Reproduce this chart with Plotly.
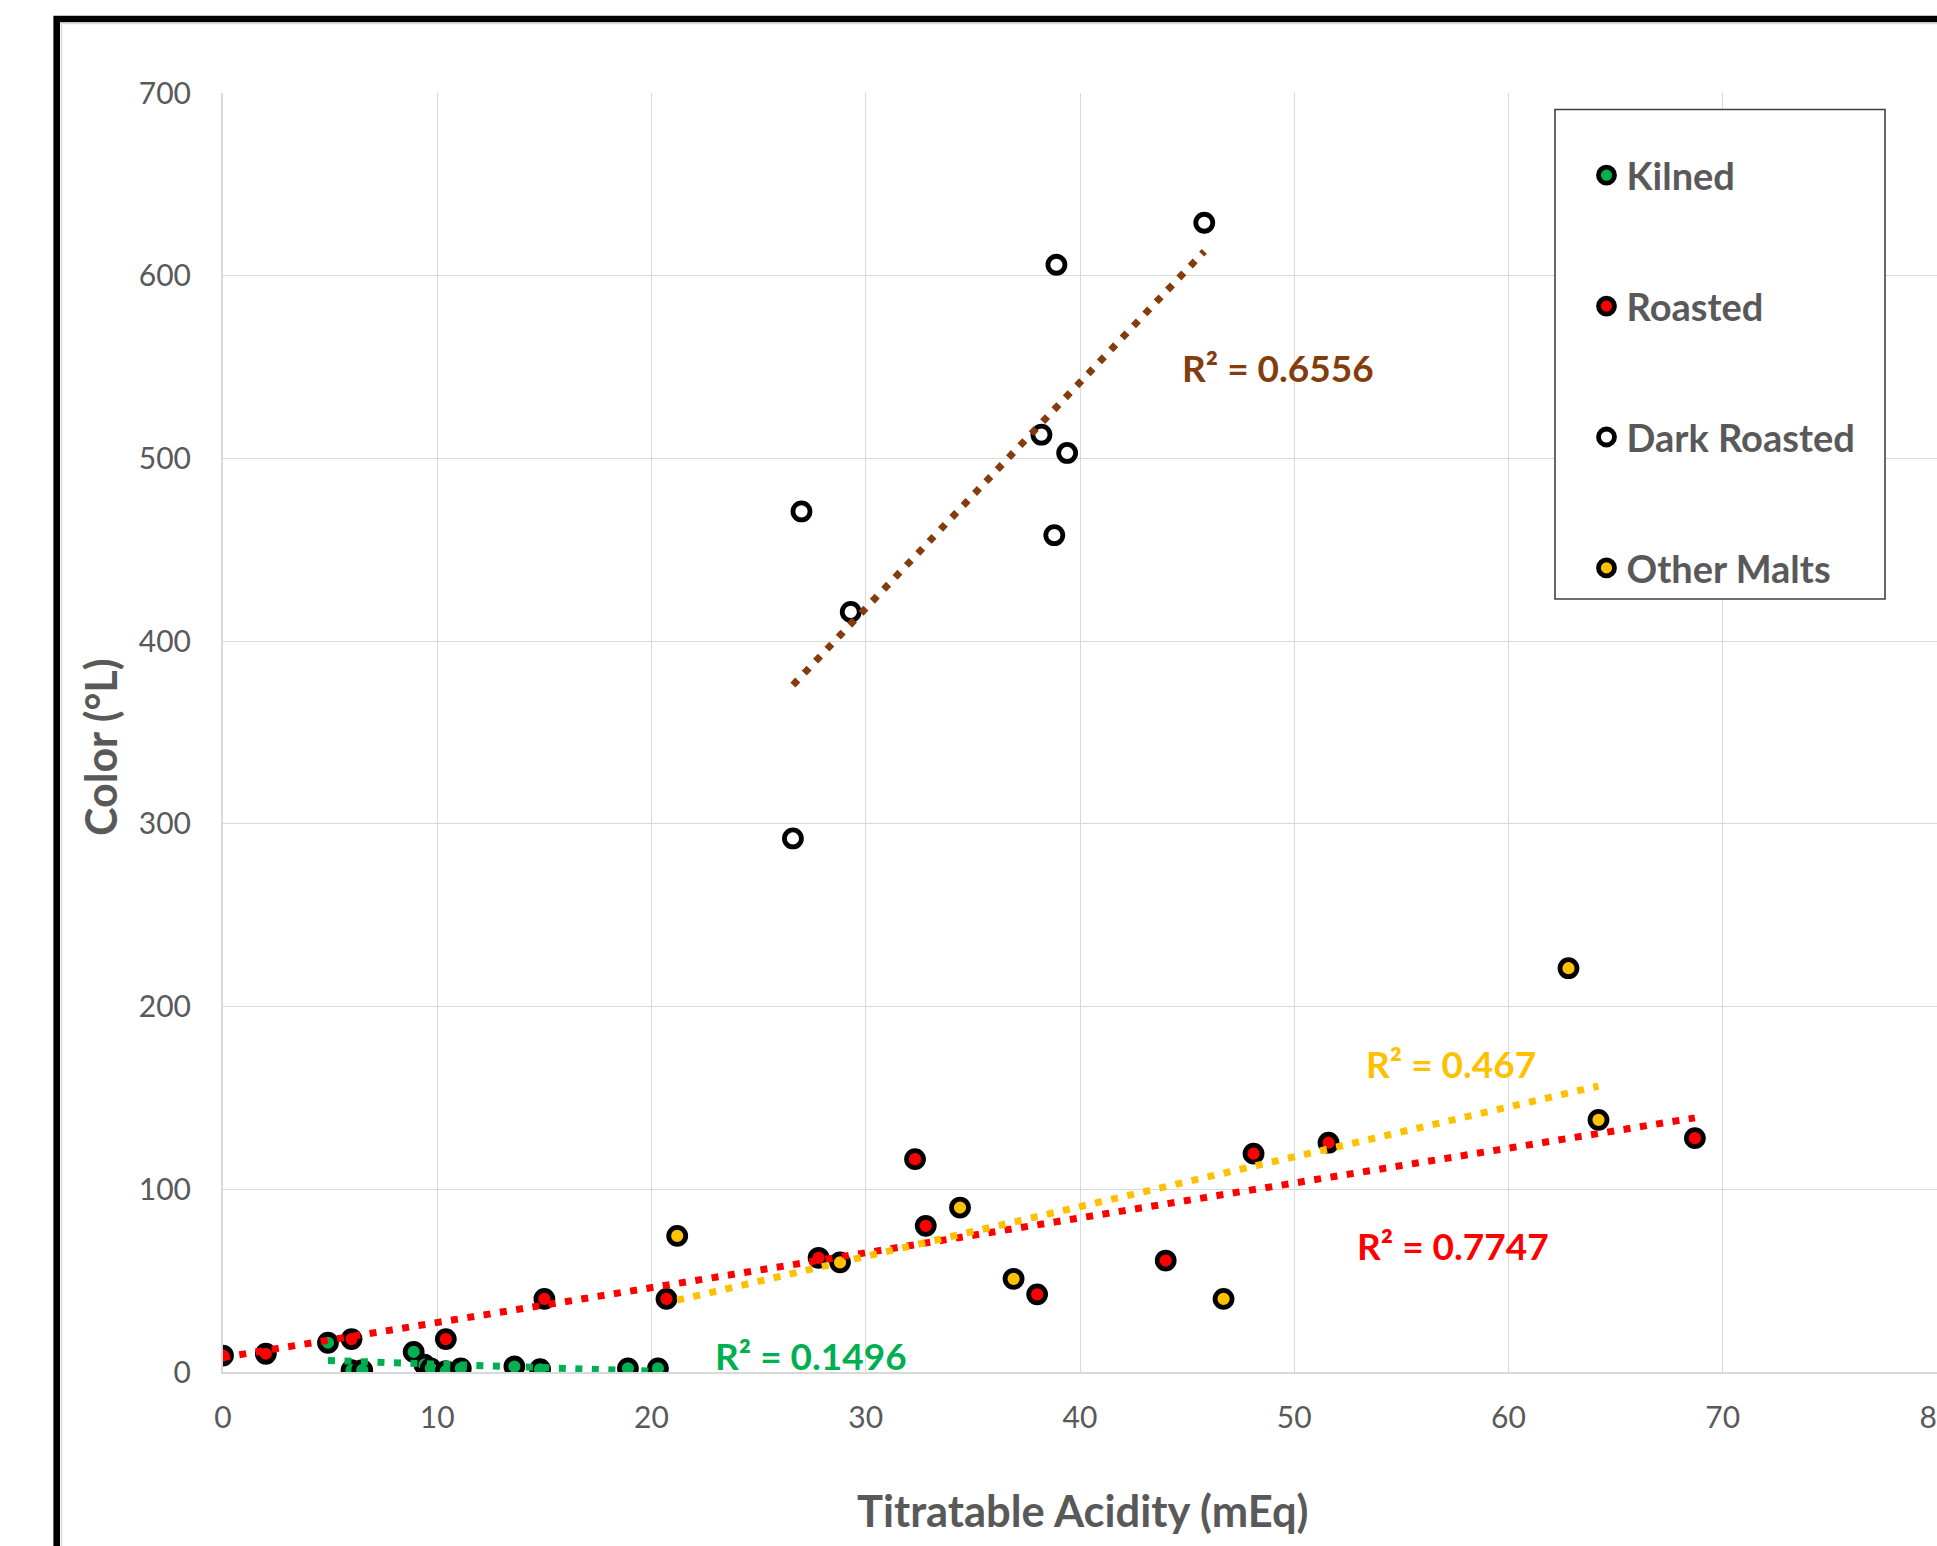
import numpy as np
import plotly.graph_objects as go

# ---------------- data ----------------
kilned_x = [4.9, 6.0, 6.5, 8.9, 9.4, 9.7, 10.4, 11.1, 13.6, 14.8, 18.9, 20.3]
kilned_y = [16, 1, 1, 11, 4, 2, 0.5, 2, 3, 1.5, 2, 2]

roasted_x = [0.0, 2.0, 6.0, 10.4, 15.0, 20.7, 27.8, 32.3, 32.8, 38.0, 44.0, 48.1, 51.6, 68.7]
roasted_y = [9, 10, 18, 18, 40, 40, 62.5, 116.5, 80, 42.5, 61, 119.5, 125.5, 128]

dark_x = [26.6, 27.0, 29.3, 38.2, 38.8, 38.9, 39.4, 45.8]
dark_y = [292, 471, 416, 513, 458, 606, 503, 629]

other_x = [21.2, 28.8, 34.4, 36.9, 46.7, 62.8, 64.2]
other_y = [74.5, 60, 90, 51, 40, 221, 138]

series_names = ["Kilned", "Roasted", "Dark Roasted", "Other Malts"]
r2_labels = ["R² = 0.1496", "R² = 0.7747", "R² = 0.6556", "R² = 0.467"]
# label anchor positions (data units, left edge / vertical middle)
r2_label_x = [22.85, 52.85, 44.65, 53.25]
r2_label_y = [9, 69, 550, 169]

x_ticks = [0, 10, 20, 30, 40, 50, 60, 70, 80]
y_ticks = [0, 100, 200, 300, 400, 500, 600, 700]
x_title = "Titratable Acidity (mEq)"
y_title = "Color (°L)"

# ---------------- styling ----------------
W, H = 1937, 1546
ML, MR, MT, MB = 223, 0, 93, 174
PW, PH = W - ML - MR, H - MT - MB
FONT = "Lato"
TXT = "#595959"
GRID = "#D9D9D9"
marker_fill = ["#00B050", "#FF0000", "#FFFFFF", "#FFC000"]
trend_color = ["#00B050", "#FF0000", "#843C0C", "#FFC000"]


def px(X):
    return (X - ML) / PW


def py(Y):
    return (H - MB - Y) / PH


xs = [kilned_x, roasted_x, dark_x, other_x]
ys = [kilned_y, roasted_y, dark_y, other_y]

fig = go.Figure()

for i, name in enumerate(series_names):
    fig.add_trace(go.Scatter(
        x=xs[i], y=ys[i], mode="markers", name=name,
        legendgroup=name,
        marker=dict(size=17, color=marker_fill[i],
                    line=dict(color="#000000", width=4.8)),
        hoverinfo="x+y",
    ))

# linear trendlines (least squares, spanning the data range)
for i, name in enumerate(series_names):
    xa = np.array(xs[i], dtype=float)
    ya = np.array(ys[i], dtype=float)
    k, b = np.polyfit(xa, ya, 1)
    tx = np.array([xa.min(), xa.max()])
    fig.add_trace(go.Scatter(
        x=tx, y=k * tx + b, mode="lines", showlegend=False,
        line=dict(color=trend_color[i], width=7, dash="7px,9.5px"),
        hoverinfo="skip",
    ))

annotations = []
for i in range(4):
    annotations.append(dict(
        x=r2_label_x[i], y=r2_label_y[i], xref="x", yref="y",
        text=r2_labels[i], showarrow=False, xanchor="left", yanchor="middle",
        font=dict(family=FONT, size=37, color=trend_color[i], weight=700),
    ))

annotations.append(dict(
    x=px(1082), y=py(1510), xref="paper", yref="paper", text=x_title,
    showarrow=False, xanchor="center", yanchor="middle",
    font=dict(family=FONT, size=43.5, color=TXT, weight=700),
))
annotations.append(dict(
    x=px(100), y=py(748), xref="paper", yref="paper", text=y_title,
    showarrow=False, xanchor="center", yanchor="middle", textangle=-90,
    font=dict(family=FONT, size=43, color=TXT, weight=700),
))

shapes = [
    # outer black frame (runs off the right and bottom edges)
    dict(type="rect", xref="paper", yref="paper",
         x0=px(56.7), y0=py(H + 60), x1=px(W + 60), y1=py(19),
         line=dict(color="#000000", width=6.6), fillcolor="rgba(0,0,0,0)", layer="below"),
    dict(type="rect", xref="paper", yref="paper",
         x0=px(61.5), y0=py(H + 60), x1=px(W + 60), y1=py(23.5),
         line=dict(color="#D9D9D9", width=1.5), fillcolor="rgba(0,0,0,0)", layer="below"),
    # legend box
    dict(type="rect", xref="paper", yref="paper",
         x0=px(1555), y0=py(599), x1=px(1885), y1=py(109.5),
         line=dict(color="#404040", width=1.6), fillcolor="#FFFFFF", layer="above"),
]

axis_common = dict(
    showgrid=True, gridcolor=GRID, gridwidth=1.3,
    showline=True, linecolor=GRID, linewidth=2,
    zeroline=False, ticks="", ticklabeloverflow="allow",
    tickfont=dict(family=FONT, size=30, color=TXT),
)

fig.update_layout(
    width=W, height=H,
    margin=dict(l=ML, r=MR, t=MT, b=MB, autoexpand=False),
    paper_bgcolor="#FFFFFF", plot_bgcolor="#FFFFFF",
    xaxis=dict(range=[0, 80], tickvals=x_ticks, ticklabelstandoff=18, **axis_common),
    yaxis=dict(range=[0, 700], tickvals=y_ticks, ticklabelstandoff=24, **axis_common),
    showlegend=True,
    legend=dict(
        x=px(1586.5), y=py(144), xanchor="left", yanchor="top",
        bgcolor="rgba(0,0,0,0)", borderwidth=0,
        traceorder="grouped", tracegroupgap=78.5, itemsizing="trace",
        font=dict(family=FONT, size=38, color=TXT, weight=700),
    ),
    annotations=annotations,
    shapes=shapes,
)

fig.write_html("out.html")
